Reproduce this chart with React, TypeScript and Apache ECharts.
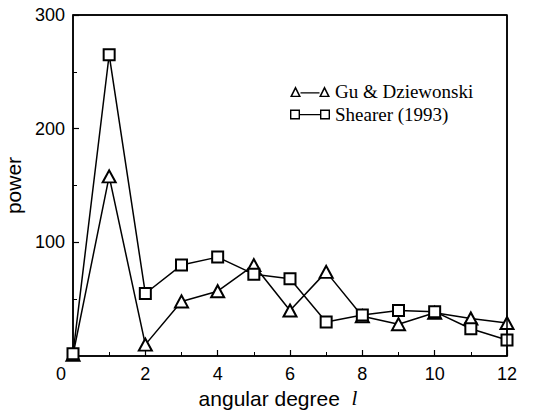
import React, { useEffect, useRef } from "react";
import * as echarts from "echarts";

const degrees = [0, 1, 2, 3, 4, 5, 6, 7, 8, 9, 10, 11, 12];
const guDziewonski = [1, 158, 10, 48, 57, 80, 40, 74, 35, 28, 38, 33, 29];
const shearer = [2, 265, 55, 80, 87, 72, 68, 30, 36, 40, 39, 24, 14];
const seriesNames = ["Gu & Dziewonski", "Shearer (1993)"];
const X_MAX = 12;
const Y_MAX = 300;

const triIcon =
  "path://M0,11L5.5,0L11,11Z M2.4,9.8L8.6,9.8L5.5,3.4Z M10.5,6.2L29.5,6.2L29.5,7.4L10.5,7.4Z M29,11L34.5,0L40,11Z M31.4,9.8L37.6,9.8L34.5,3.4Z";
const sqIcon =
  "path://M0,0L10,0L10,10L0,10Z M1.4,1.4L1.4,8.6L8.6,8.6L8.6,1.4Z M10,4.6L30,4.6L30,5.8L10,5.8Z M30,0L40,0L40,10L30,10Z M31.4,1.4L31.4,8.6L38.6,8.6L38.6,1.4Z";

const sans = "'Liberation Sans', Arial, sans-serif";
const serif = "'Liberation Serif', 'Times New Roman', serif";

const W = 535;
const H = 416;

export default function App() {
  const ref = useRef<HTMLDivElement>(null);
  useEffect(() => {
    if (!ref.current) return;
    const chart = echarts.init(ref.current, undefined, { renderer: "svg" });
    const axisCommon = {
      axisLine: { show: true, onZero: false, lineStyle: { color: "#000", width: 1.5 } },
      axisTick: { show: true, inside: true, length: 6, lineStyle: { color: "#000", width: 1.2 } },
      minorTick: { show: true, splitNumber: 2, length: 4, lineStyle: { color: "#000", width: 1 } },
      splitLine: { show: false },
    };
    chart.setOption({
      animation: false,
      backgroundColor: "#fff",
      grid: {
        left: 73,
        right: 28,
        top: 15,
        bottom: 60,
        outerBoundsMode: "none",
        containLabel: false,
        show: true,
        borderColor: "#000",
        borderWidth: 1.5,
        backgroundColor: "rgba(0,0,0,0)",
      },
      legend: {
        orient: "vertical",
        left: 285,
        top: 77,
        itemGap: 4,
        itemWidth: 40,
        itemHeight: 11,
        textStyle: { fontFamily: serif, fontSize: 19, color: "#000" },
        itemStyle: { color: "#000", borderWidth: 0 },
        data: [
          { name: seriesNames[0], icon: triIcon },
          { name: seriesNames[1], icon: sqIcon },
        ],
      },
      xAxis: {
        type: "value",
        min: 0,
        max: X_MAX,
        interval: 2,
        position: "bottom",
        ...axisCommon,
        name: "angular degree  {i|l}",
        nameLocation: "middle",
        nameGap: 31,
        nameTextStyle: {
          fontFamily: sans,
          fontSize: 21,
          color: "#000",
          padding: [0, 24, 0, 0],
          rich: { i: { fontFamily: serif, fontStyle: "italic", fontSize: 21, color: "#000" } },
        },
        axisLabel: {
          margin: 9,
          fontFamily: sans,
          fontSize: 18,
          color: "#000",
          formatter: (v: number) => (v === 0 ? "{z|0}" : String(v)),
          rich: { z: { fontFamily: sans, fontSize: 18, color: "#000", padding: [0, 24, 0, 0] } },
        },
      },
      yAxis: {
        type: "value",
        min: 0,
        max: Y_MAX,
        interval: 100,
        position: "left",
        ...axisCommon,
        name: "power",
        nameLocation: "middle",
        nameGap: 42,
        nameTextStyle: { fontFamily: sans, fontSize: 21, color: "#000" },
        axisLabel: {
          margin: 8,
          fontFamily: sans,
          fontSize: 18,
          color: "#000",
          formatter: (v: number) => (v === 0 ? "" : String(v)),
        },
      },
      series: [
        {
          name: seriesNames[0],
          type: "line",
          data: degrees.map((d, i) => [d, guDziewonski[i]]),
          symbol: "emptyTriangle",
          symbolSize: [13, 12],
          lineStyle: { color: "#000", width: 1.5 },
          itemStyle: { color: "#000", borderColor: "#000", borderWidth: 1.5 },
          clip: false,
          markLine: {
            silent: true,
            symbol: ["none", "none"],
            label: { show: false },
            emphasis: { disabled: true },
            lineStyle: { color: "#000", width: 1.5, type: "solid" },
            data: [{ yAxis: Y_MAX }, { xAxis: X_MAX }],
          },
        },
        {
          name: seriesNames[1],
          type: "line",
          data: degrees.map((d, i) => [d, shearer[i]]),
          symbol: "emptyRect",
          symbolSize: 11,
          lineStyle: { color: "#000", width: 1.5 },
          itemStyle: { color: "#000", borderColor: "#000", borderWidth: 1.5 },
          clip: false,
        },
      ],
    });
    return () => chart.dispose();
  }, []);
  return (
    <div
      ref={ref}
      style={{ position: "absolute", left: 0, top: 0, width: W, height: H }}
    />
  );
}
